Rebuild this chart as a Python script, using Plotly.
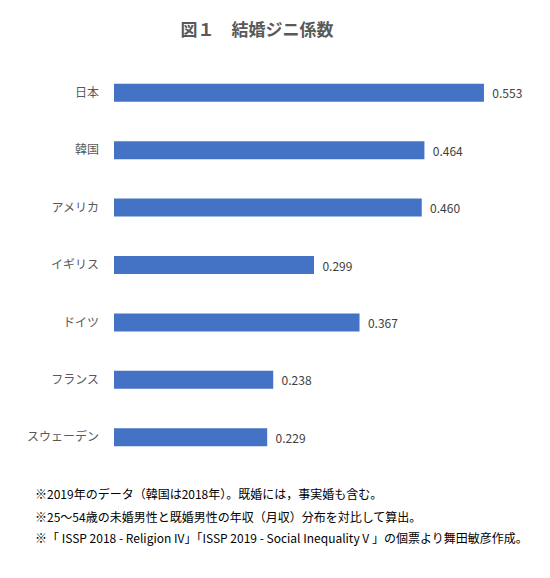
import plotly.graph_objects as go

# 結婚ジニ係数（国別）
countries = ["日本", "韓国", "アメリカ", "イギリス", "ドイツ", "フランス", "スウェーデン"]
gini = [0.553, 0.464, 0.460, 0.299, 0.367, 0.238, 0.229]

notes = [
    "※2019年のデータ（韓国は2018年）。既婚には，事実婚も含む。",
    "※25～54歳の未婚男性と既婚男性の年収（月収）分布を対比して算出。",
    "※「 ISSP 2018 - Religion IV」「ISSP 2019 - Social Inequality V 」の個票より舞田敏彦作成。",
]

W, H = 550, 578
OFF = 8  # page body margin
L, R, T, B = 114 - OFF, 10 + OFF, 64 - OFF, 112 + OFF
plot_w = W - L - R
plot_h = H - T - B
px_per_unit = 669  # from reference bar lengths

fig = go.Figure()

fig.add_trace(
    go.Bar(
        x=gini,
        y=countries,
        orientation="h",
        marker=dict(color="#4472C4", line=dict(width=0)),
        text=["  " + f"{v:.3f}" for v in gini],
        textposition="outside",
        textfont=dict(size=12, color="#404040"),
        cliponaxis=False,
        hoverinfo="skip",
    )
)

# footnotes, one per line
note_y = [494, 516, 537]
for txt, yy in zip(notes, note_y):
    fig.add_annotation(
        text=txt,
        xref="paper", yref="paper",
        x=(33 - 114) / plot_w, y=(466 - yy) / plot_h,
        xanchor="left", yanchor="middle",
        showarrow=False,
        font=dict(size=12, color="#000000"),
    )

fig.update_layout(
    width=W,
    height=H,
    margin=dict(l=L, r=R, t=T, b=B),
    paper_bgcolor="white",
    plot_bgcolor="white",
    showlegend=False,
    bargap=0.686,
    font=dict(family="Noto Sans CJK JP, Noto Sans, sans-serif"),
    title=dict(
        text="<b>図１　結婚ジニ係数</b>",
        x=(257 - OFF) / W, xanchor="center",
        y=1 - (30 - OFF) / H, yanchor="middle",
        xref="container", yref="container",
        font=dict(size=17, color="#595959"),
    ),
    xaxis=dict(
        range=[0, plot_w / px_per_unit],
        visible=False,
        fixedrange=True,
    ),
    yaxis=dict(
        autorange="reversed",
        showline=False,
        showgrid=False,
        ticks="",
        ticklabelstandoff=14,
        tickfont=dict(size=12, color="#595959"),
        fixedrange=True,
    ),
)

fig.write_html("out.html")
